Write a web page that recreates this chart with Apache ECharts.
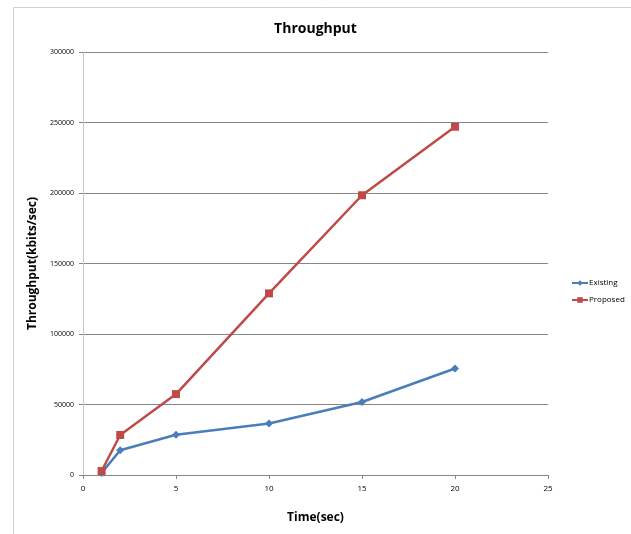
<!DOCTYPE html>
<html><head><meta charset="utf-8">
<script src="https://cdn.jsdelivr.net/npm/echarts@6/dist/echarts.min.js"></script>
<style>html,body{margin:0;padding:0;background:#fff}#c{width:631px;height:534px}</style>
</head><body><div id="c"></div>
<script>
const times = [1, 2, 5, 10, 15, 20];
const existing = [1500, 17500, 28500, 36500, 51800, 75500];
const proposed = [2800, 28400, 57400, 128800, 198400, 247000];
const xTicks = [0, 5, 10, 15, 20, 25];
const yTicks = [0, 50000, 100000, 150000, 200000, 250000, 300000];

const chart = echarts.init(document.getElementById('c'));
const font = '"Open Sans", "Liberation Sans", sans-serif';
chart.setOption({
  animation: false,
  graphic: [{type:'rect', shape:{x:13.5,y:7.5,width:640,height:540}, style:{fill:'none', stroke:'#d0d0d0', lineWidth:1}}],
  title: {text:'Throughput', left:'center', top:17, textStyle:{fontFamily:font, fontSize:14, fontWeight:'bold', color:'#000'}},
  legend: {orient:'vertical', left:566, top:274, itemGap:9, itemWidth:16, itemHeight:7,
    textStyle:{fontFamily:font, fontSize:8, color:'#000', padding:[0,0,0,-4]},
    data:['Existing','Proposed']},
  grid: {left:83, right:83, top:52, bottom:59},
  xAxis: {type:'value', min:xTicks[0], max:xTicks[xTicks.length-1], interval:5,
    name:'Time(sec)', nameLocation:'middle', nameGap:37,
    nameTextStyle:{fontFamily:font, fontSize:12, fontWeight:'bold', color:'#000'},
    axisLine:{show:true, lineStyle:{color:'#868686'}},
    axisTick:{show:true, length:4, lineStyle:{color:'#868686'}},
    axisLabel:{fontFamily:font, fontSize:8, color:'#000', margin:10},
    splitLine:{show:false}},
  yAxis: {type:'value', min:yTicks[0], max:yTicks[yTicks.length-1], interval:50000,
    name:'Throughput(kbits/sec)', nameLocation:'middle', nameGap:44,
    nameTextStyle:{fontFamily:font, fontSize:12, fontWeight:'bold', color:'#000'},
    axisLine:{show:true, lineStyle:{color:'#c8c8c8'}},
    axisTick:{show:true, length:4, lineStyle:{color:'#868686'}},
    axisLabel:{fontFamily:font, fontSize:7, color:'#000', margin:9, formatter: v => String(v)},
    splitLine:{show:true, lineStyle:{color:'#868686', width:1}}},
  series: [
    {name:'Existing', type:'line', data:times.map((t,i)=>[t, existing[i]]),
      symbol:'diamond', symbolSize:8, color:'#4a7ebb', lineStyle:{width:2.5, color:'#4a7ebb'}, itemStyle:{color:'#4a7ebb'}},
    {name:'Proposed', type:'line', data:times.map((t,i)=>[t, proposed[i]]),
      symbol:'rect', symbolSize:8, color:'#be4b48', lineStyle:{width:2.5, color:'#be4b48'}, itemStyle:{color:'#be4b48'}}
  ]
});
</script></body></html>
